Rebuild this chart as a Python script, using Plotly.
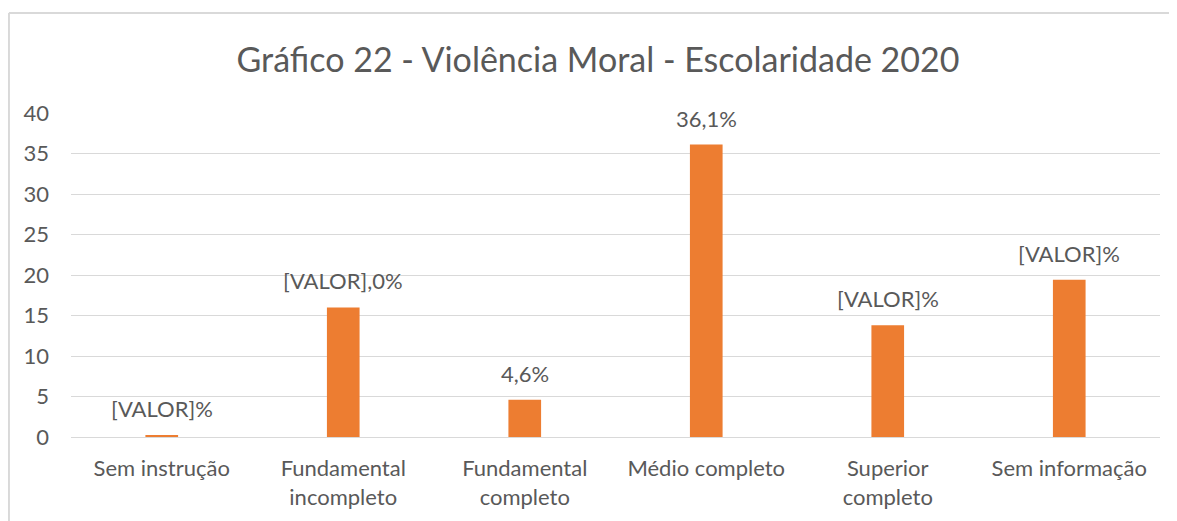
import plotly.graph_objects as go

categories = ["Sem instrução", "Fundamental<br>incompleto", "Fundamental<br>completo",
              "Médio completo", "Superior<br>completo", "Sem informação"]
values = [0.2, 16.0, 4.6, 36.1, 13.8, 19.4]
labels = ["[VALOR]%", "[VALOR],0%", "4,6%", "36,1%", "[VALOR]%", "[VALOR]%"]
y_ticks = [0, 5, 10, 15, 20, 25, 30, 35, 40]

FONT = "Lato, Carlito, Calibri, sans-serif"
GRAY = "#595959"

fig = go.Figure(go.Bar(
    x=categories, y=values,
    marker=dict(color="#ED7D31", line=dict(width=0)),
    cliponaxis=False,
))

for c, v, t in zip(categories, values, labels):
    fig.add_annotation(x=c, y=v, text=t, showarrow=False, yanchor="bottom",
                       yshift=11, font=dict(size=22, color=GRAY, family=FONT))

fig.update_layout(
    width=1177, height=521,
    margin=dict(l=63, r=25, t=105, b=92, autoexpand=False),
    paper_bgcolor="white", plot_bgcolor="white",
    bargap=0.82,
    showlegend=False,
    title=dict(text="Gráfico 22 - Violência Moral - Escolaridade 2020",
               x=590 / 1177, xref="container", xanchor="center",
               y=1 - 52 / 521, yref="container", yanchor="middle",
               font=dict(size=34, color=GRAY, family=FONT)),
    font=dict(family=FONT, color=GRAY),
    xaxis=dict(tickfont=dict(size=22, color=GRAY, family=FONT), showline=False,
               showgrid=False, ticks="", fixedrange=True, automargin=False,
               ticklabelstandoff=16),
    yaxis=dict(range=[0, 40], tickvals=y_ticks, tickfont=dict(size=22, color=GRAY, family=FONT),
               showgrid=True, gridcolor="#D9D9D9", gridwidth=1, zeroline=True,
               zerolinecolor="#D9D9D9", zerolinewidth=1, ticks="", automargin=False,
               ticklabelstandoff=21),
    shapes=[
        dict(type="line", xref="paper", yref="paper", x0=-0.0570, x1=1.03,
             y0=1.309, y1=1.309, line=dict(color="#D9D9D9", width=2), layer="below"),
        dict(type="line", xref="paper", yref="paper", x0=-0.0570, x1=-0.0570,
             y0=-0.5, y1=1.309, line=dict(color="#D9D9D9", width=2), layer="below"),
    ],
)

fig.write_html("out.html")
